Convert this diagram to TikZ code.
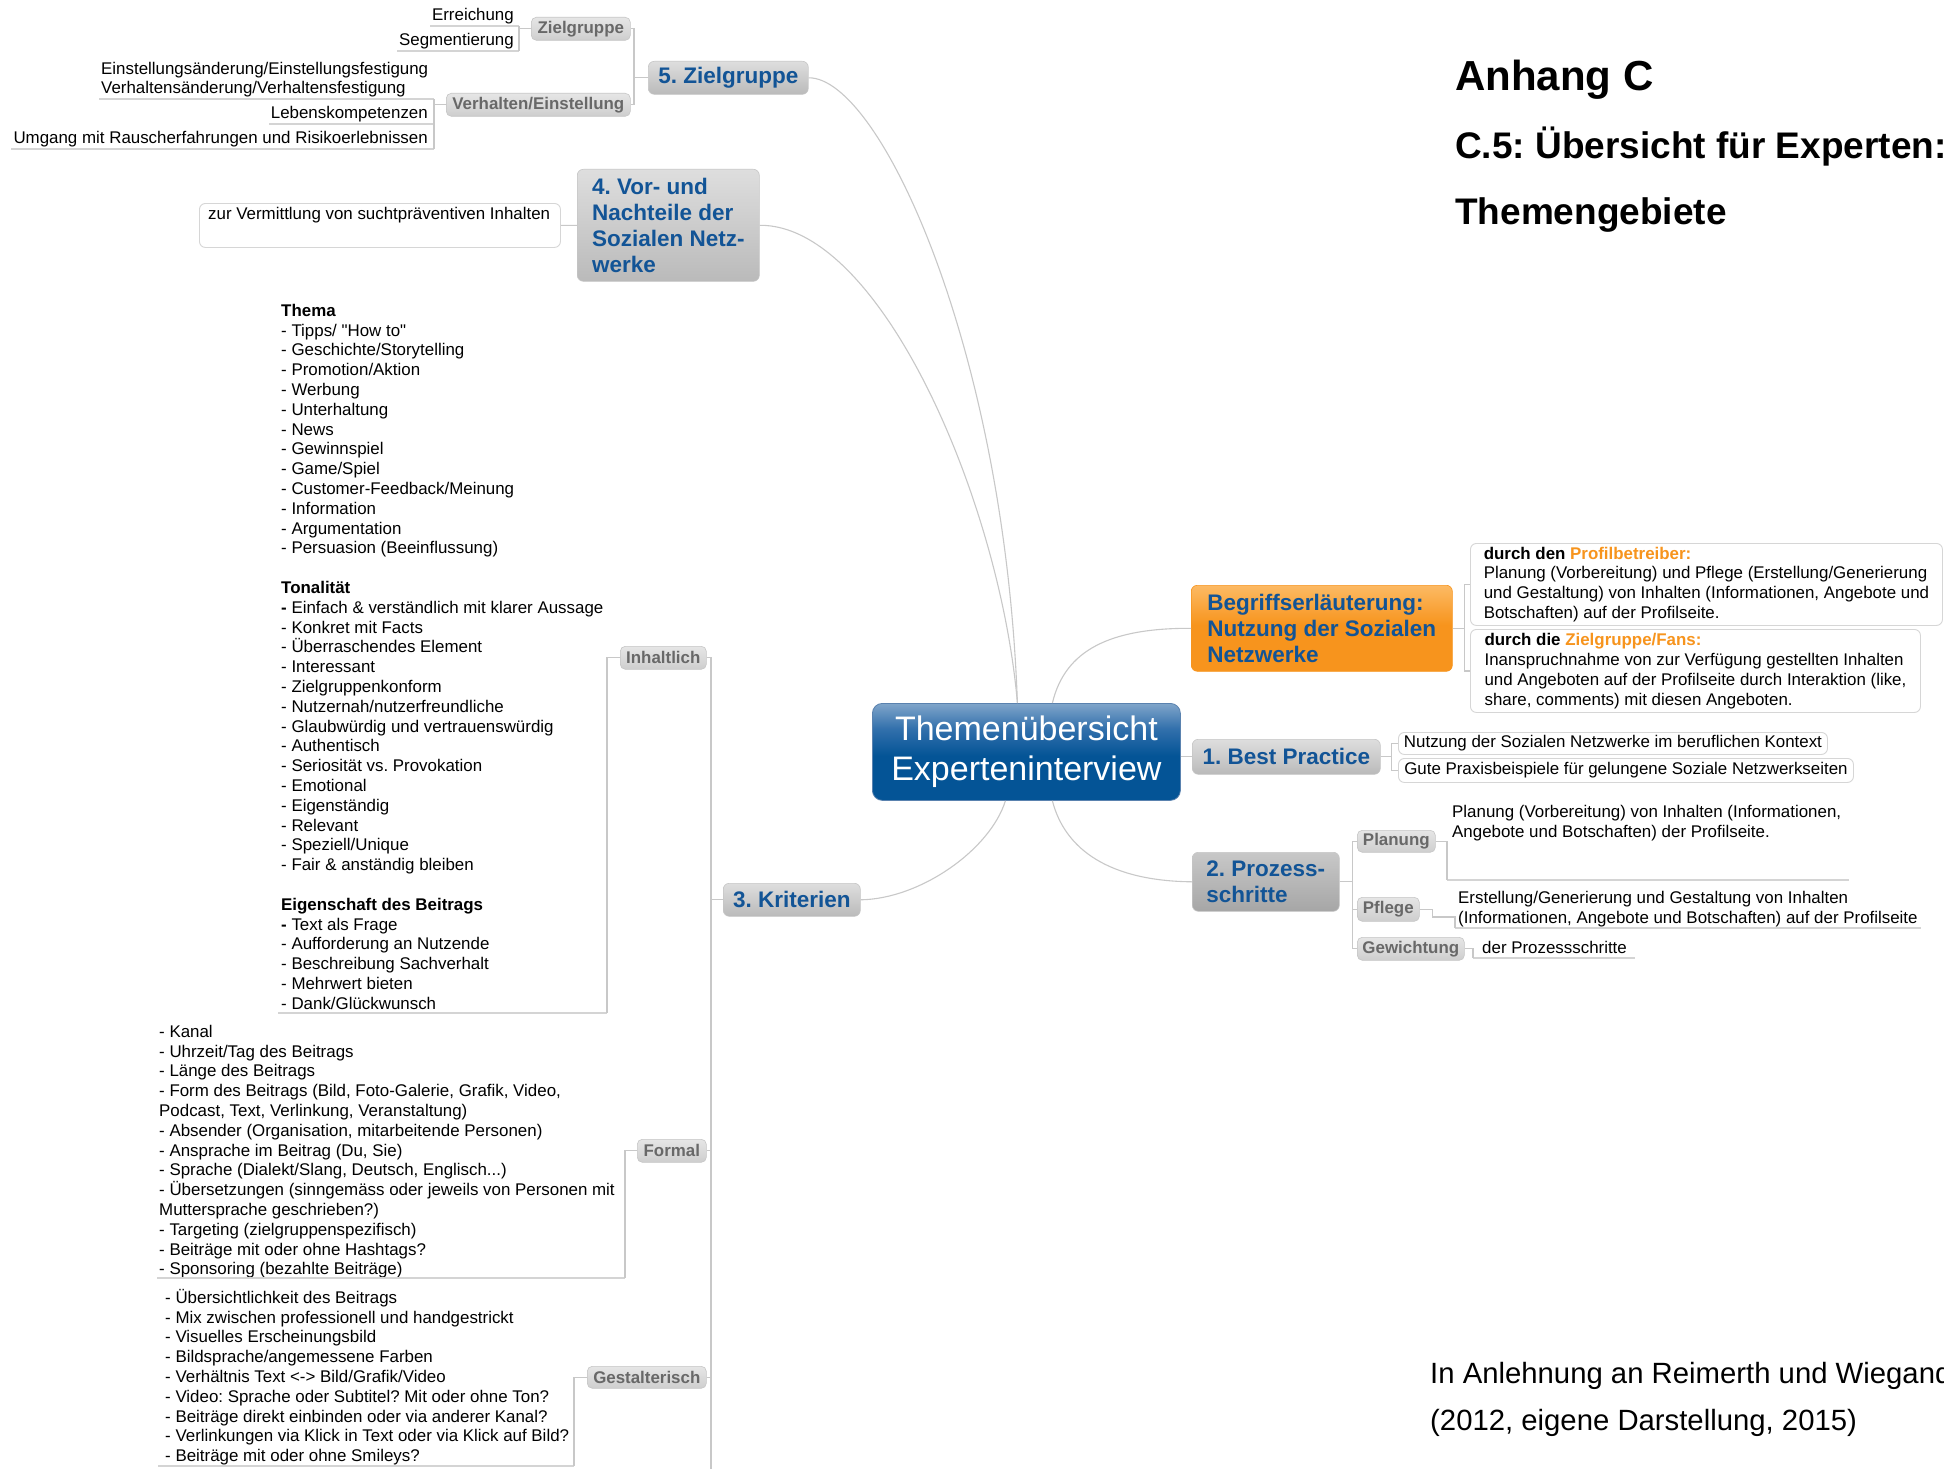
\documentclass[tikz,border=0pt]{standalone}
\usepackage{fontspec}
\setmainfont{Liberation Sans}
\newfontfamily\quotefont{Liberation Sans}
\usetikzlibrary{calc}
\frenchspacing
\definecolor{topicblue}{RGB}{18,84,150}
\definecolor{linegray}{RGB}{200,200,200}
\definecolor{ulgray}{RGB}{212,212,212}
\definecolor{labelgray}{RGB}{104,104,104}
\definecolor{gonetop}{RGB}{222,222,222}
\definecolor{gonebot}{RGB}{186,186,186}
\definecolor{gdarktop}{RGB}{200,200,200}
\definecolor{gdarkbot}{RGB}{166,166,166}
\definecolor{gtwotop}{RGB}{230,230,230}
\definecolor{gtwobot}{RGB}{206,206,206}
\definecolor{oratop}{RGB}{252,186,100}
\definecolor{orabot}{RGB}{247,148,29}
\definecolor{orangetext}{RGB}{247,148,29}
\definecolor{cdark}{RGB}{4,84,150}
\definecolor{cmid}{RGB}{50,112,172}
\definecolor{clight}{RGB}{128,165,202}
\definecolor{calloutedge}{RGB}{214,214,214}
\definecolor{boxedge}{RGB}{198,198,198}
\definecolor{centeredge}{RGB}{90,130,175}
\pgfdeclareverticalshading{centralshade}{100bp}{color(0bp)=(cdark); color(25bp)=(cdark); color(48bp)=(cdark); color(62bp)=(cmid); color(75bp)=(clight); color(100bp)=(clight)}
\pgfdeclareverticalshading{orangeshade}{100bp}{color(0bp)=(orabot); color(25bp)=(orabot); color(52bp)=(orabot); color(75bp)=(oratop); color(100bp)=(oratop)}
\newcommand{\firststrut}{\rule{0pt}{15pt}}
\newcommand{\straightquote}{{\quotefont\symbol{34}}}
\tikzset{
  conn/.style={draw=linegray, line width=1.1pt},
  uline/.style={draw=ulgray, line width=1.1pt},
  txt/.style={inner sep=0pt, font=\fontsize{16.9}{19.8}\selectfont, align=left},
  central/.style={rounded corners=10pt, shading=centralshade, draw=centeredge, line width=0.8pt, text=white, font=\fontsize{34}{40}\selectfont, align=center, inner sep=0pt, anchor=north west},
  lvlone/.style={rounded corners=6pt, draw=boxedge, line width=0.6pt, top color=gonetop, bottom color=gonebot, text=topicblue, font=\bfseries\fontsize{22.5}{26}\selectfont, align=left, inner sep=0pt, anchor=north west},
  orangebox/.style={rounded corners=6pt, draw=orabot, line width=0.6pt, shading=orangeshade, text=topicblue, font=\bfseries\fontsize{22.5}{26}\selectfont, align=left, inner sep=0pt, anchor=north west},
  lvltwo/.style={rounded corners=5pt, draw=boxedge, line width=0.6pt, top color=gtwotop, bottom color=gtwobot, text=labelgray, font=\bfseries\fontsize{16.9}{19.8}\selectfont, inner sep=0pt, anchor=north west},
  callout/.style={rounded corners=6pt, draw=calloutedge, line width=0.9pt, fill=white, inner sep=0pt, anchor=north west, font=\fontsize{16.9}{19.8}\selectfont, align=left},
  titletext/.style={anchor=base west, inner sep=0pt, font=\bfseries\fontsize{37}{44}\selectfont},
  sourcetext/.style={anchor=base west, inner sep=0pt, font=\fontsize{29.3}{34}\selectfont},
}
\begin{document}
\begin{tikzpicture}[x=1pt, y=-1pt]
\useasboundingbox (0,0) rectangle (1944,1469);
\fill[white] (0,0) rectangle (1944,1469);

% ---------- title and source ----------
\node[titletext, font=\bfseries\fontsize{42}{48}\selectfont] (anhang) at (1455,91) {Anhang C};
\node[titletext] (cfive) at (1455,158) {C.5: Übersicht für Experten:};
\node[titletext] (themen) at (1455,224) {Themengebiete};
\node[sourcetext] (srcone) at (1430,1383) {In Anlehnung an Reimerth und Wiegand};
\node[sourcetext] (srctwo) at (1430,1430) {(2012, eigene Darstellung, 2015)};

% ---------- main topics ----------
\node[central, minimum width=308, minimum height=97] (center) at (872,703) {Themenübersicht\\Experteninterview};
\node[lvlone, minimum width=160, minimum height=33] (zfive) at (648,61) {5. Zielgruppe};
\node[lvlone, minimum width=182, minimum height=112] (vor) at (577,169) {4. Vor- und\\Nachteile der\\Sozialen Netz-\\werke};
\node[lvlone, minimum width=137, minimum height=33] (krit) at (723,883) {3. Kriterien};
\node[orangebox, minimum width=261, minimum height=86] (begriff) at (1191,585) {Begriffserläuterung:\\Nutzung der Sozialen\\Netzwerke};
\node[lvlone, minimum width=188, minimum height=35] (bestp) at (1192,739) {1. Best Practice};
\node[lvlone, top color=gdarktop, bottom color=gdarkbot, minimum width=147, minimum height=59] (proz) at (1192,852) {2. Prozess-\\schritte};

% ---------- subtopics ----------
\node[lvltwo, minimum width=99, minimum height=23] (zgl) at (531,17) {Zielgruppe};
\node[lvltwo, minimum width=184, minimum height=23] (verh) at (446,93) {Verhalten/Einstellung};
\node[lvltwo, minimum width=86, minimum height=23] (inh) at (620,646) {Inhaltlich};
\node[lvltwo, minimum width=69, minimum height=23] (formal) at (637,1139) {Formal};
\node[lvltwo, minimum width=119, minimum height=22] (gest) at (587,1366) {Gestalterisch};
\node[lvltwo, minimum width=78, minimum height=22] (plan) at (1357,830) {Planung};
\node[lvltwo, minimum width=62, minimum height=24] (pfl) at (1357,897) {Pflege};
\node[lvltwo, minimum width=107, minimum height=23] (gew) at (1357,937) {Gewichtung};

% ---------- callouts ----------
\node[callout, minimum width=361, minimum height=44] (vermbox) at (199,203) {};
\node[txt, anchor=base west] (verm) at (208,219) {zur Vermittlung von suchtpräventiven Inhalten};
\node[callout, minimum width=472, minimum height=82] (bone) at (1470,543) {\textbf{durch den \textcolor{orangetext}{Profilbetreiber:}}\\Planung (Vorbereitung) und Pflege (Erstellung/Generierung\\und Gestaltung) von Inhalten (Informationen, Angebote und\\Botschaften) auf der Profilseite.};
\node[callout, minimum width=450, minimum height=83] (btwo) at (1470,629) {\textbf{durch die \textcolor{orangetext}{Zielgruppe/Fans:}}\\Inanspruchnahme von zur Verfügung gestellten Inhalten\\und Angeboten auf der Profilseite durch Interaktion (like,\\share, comments) mit diesen Angeboten.};
\node[callout, minimum width=429, minimum height=22] (bpone) at (1398,732) {Nutzung der Sozialen Netzwerke im beruflichen Kontext};
\node[callout, minimum width=455, minimum height=24] (bptwo) at (1398,758) {Gute Praxisbeispiele für gelungene Soziale Netzwerkseiten};

% ---------- underlined leaf texts ----------
\node[txt, anchor=base east] (erre) at (514,21) {Erreichung};
\node[txt, anchor=base east] (segm) at (514,46) {Segmentierung};
\node[txt, anchor=north west] (einst) at (101,59) {\firststrut Einstellungsänderung/Einstellungsfestigung\\Verhaltensänderung/Verhaltensfestigung};
\node[txt, anchor=base east] (lebens) at (428,119) {Lebenskompetenzen};
\node[txt, anchor=base east] (umgang) at (428,144) {Umgang mit Rauscherfahrungen und Risikoerlebnissen};

\coordinate (erreC) at (519,26);
\coordinate (segmC) at (519,51);
\coordinate (einC) at (434,99);
\coordinate (lebC) at (434,124);
\coordinate (umgC) at (434,149);
\draw[uline] (430,26) -- (erreC);
\draw[uline] (397,51) -- (segmC);
\draw[uline] (99,99) -- (einC);
\draw[uline] (269,124) -- (lebC);
\draw[uline] (11,149) -- (umgC);

\node[txt, anchor=north west] (themalist) at (281,301) {\firststrut\textbf{Thema}\\
- Tipps/ \straightquote How to\straightquote\\
- Geschichte/Storytelling\\
- Promotion/Aktion\\
- Werbung\\
- Unterhaltung\\
- News\\
- Gewinnspiel\\
- Game/Spiel\\
- Customer-Feedback/Meinung\\
- Information\\
- Argumentation\\
- Persuasion (Beeinflussung)\\[19.8pt]
\textbf{Tonalität}\\
\textbf{-} Einfach \& verständlich mit klarer Aussage\\
- Konkret mit Facts\\
- Überraschendes Element\\
- Interessant\\
- Zielgruppenkonform\\
- Nutzernah/nutzerfreundliche\\
- Glaubwürdig und vertrauenswürdig\\
- Authentisch\\
- Seriosität vs. Provokation\\
- Emotional\\
- Eigenständig\\
- Relevant\\
- Speziell/Unique\\
- Fair \& anständig bleiben\\[19.8pt]
\textbf{Eigenschaft des Beitrags}\\
\textbf{-} Text als Frage\\
- Aufforderung an Nutzende\\
- Beschreibung Sachverhalt\\
- Mehrwert bieten\\
- Dank/Glückwunsch};

\node[txt, anchor=north west] (formlist) at (159,1022) {\firststrut- Kanal\\
- Uhrzeit/Tag des Beitrags\\
- Länge des Beitrags\\
- Form des Beitrags (Bild, Foto-Galerie, Grafik, Video,\\
Podcast, Text, Verlinkung, Veranstaltung)\\
- Absender (Organisation, mitarbeitende Personen)\\
- Ansprache im Beitrag (Du, Sie)\\
- Sprache (Dialekt/Slang, Deutsch, Englisch...)\\
- Übersetzungen (sinngemäss oder jeweils von Personen mit\\
Muttersprache geschrieben?)\\
- Targeting (zielgruppenspezifisch)\\
- Beiträge mit oder ohne Hashtags?\\
- Sponsoring (bezahlte Beiträge)};

\node[txt, anchor=north west] (gestlist) at (165,1288) {\firststrut- Übersichtlichkeit des Beitrags\\
- Mix zwischen professionell und handgestrickt\\
- Visuelles Erscheinungsbild\\
- Bildsprache/angemessene Farben\\
- Verhältnis Text <-> Bild/Grafik/Video\\
- Video: Sprache oder Subtitel? Mit oder ohne Ton?\\
- Beiträge direkt einbinden oder via anderer Kanal?\\
- Verlinkungen via Klick in Text oder via Klick auf Bild?\\
- Beiträge mit oder ohne Smileys?};

\coordinate (inhC) at (607,1013);
\coordinate (formC) at (625,1278);
\coordinate (gestC) at (574,1466);
\draw[uline] (278,1013) -- (inhC);
\draw[uline] (157,1278) -- (formC);
\draw[uline] (158,1466) -- (gestC);

\node[txt, anchor=north west] (plantext) at (1452,802) {\firststrut Planung (Vorbereitung) von Inhalten (Informationen,\\Angebote und Botschaften) der Profilseite.};
\node[txt, anchor=north west] (pfltext) at (1458,888) {\firststrut Erstellung/Generierung und Gestaltung von Inhalten\\(Informationen, Angebote und Botschaften) auf der Profilseite};
\node[txt, anchor=base west] (gewtext) at (1482,953) {der Prozessschritte};
\coordinate (planC) at (1447,880);
\coordinate (pflM) at (1455,917);
\coordinate (pflC) at (1455,928);
\coordinate (gewC) at (1473,958);
\draw[uline] (planC) -- (1849,880);
\draw[uline] (pflC) -- (1921,928);
\draw[uline] (gewC) -- (1635,958);

% ---------- connectors ----------
\draw[conn] ([xshift=-9pt]center.north) .. controls (1005,350) and (880,77) .. (zfive.east);
\draw[conn] ([xshift=-9pt]center.north) .. controls (1000,500) and (880,224) .. (vor.east);
\draw[conn] ([xshift=26pt]center.north) .. controls (1065,650) and (1110,628) .. (begriff.west);
\draw[conn] (center.east |- bestp.west) -- (bestp.west);
\draw[conn] ([xshift=26pt]center.south) .. controls (1065,850) and (1110,881) .. (proz.west);
\draw[conn] ([xshift=-21pt]center.south) .. controls (990,850) and (920,899) .. (krit.east);

\draw[conn] (zfive.west) -- ++(-14,0) |- (zgl.east);
\draw[conn] (zfive.west) -- ++(-14,0) |- (verh.east);
\draw[conn] (zgl.west) -| (erreC);
\draw[conn] (zgl.west) -| (segmC);
\draw[conn] (verh.west) -| (einC);
\draw[conn] (verh.west) -| (umgC);

\draw[conn] (vor.west) -- (vermbox.east);

\coordinate (trunkend) at (711,1475);
\draw[conn] (inh.east) -| (trunkend);
\draw[conn] (krit.west) -- (krit.west -| trunkend);
\draw[conn] (formal.east) -- (formal.east -| trunkend);
\draw[conn] (gest.east) -- (gest.east -| trunkend);
\draw[conn] (inh.west) -| (inhC);
\draw[conn] (formal.west) -| (formC);
\draw[conn] (gest.west) -| (gestC);

\draw[conn] (begriff.east) -- ++(12,0) |- (bone.west);
\draw[conn] (begriff.east) -- ++(12,0) |- (btwo.west);
\draw[conn] (bestp.east) -- ++(11,0) |- (bpone.west);
\draw[conn] (bestp.east) -- ++(11,0) |- (bptwo.west);
\draw[conn] (proz.east) -- ++(13,0) |- (plan.west);
\draw[conn] (proz.east) -- ++(13,0) |- (pfl.west);
\draw[conn] (proz.east) -- ++(13,0) |- (gew.west);
\draw[conn] (plan.east) -| (planC);
\draw[conn] (pfl.east) -- ++(13,0) |- (pflM) -- (pflC);
\draw[conn] (gew.east) -| (gewC);
\end{tikzpicture}
\end{document}
